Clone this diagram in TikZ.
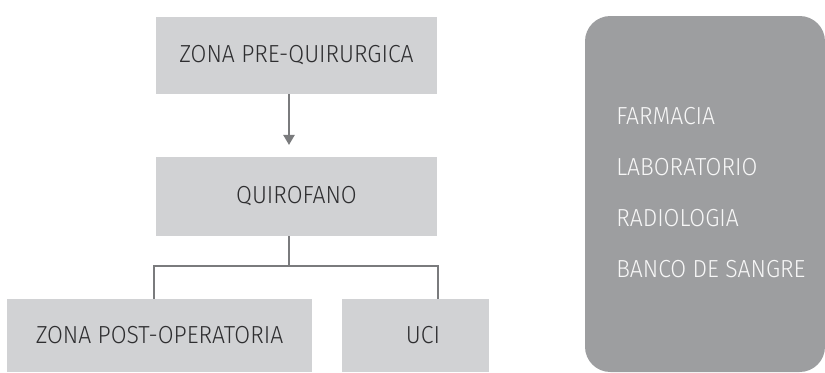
\documentclass[tikz,border=0pt]{standalone}
\usepackage{fontspec}
\setmainfont{Fira Sans Light}[FakeStretch=0.93]
\usetikzlibrary{arrows.meta,positioning,calc}

\definecolor{boxgray}{HTML}{D1D2D4}
\definecolor{panelgray}{HTML}{9D9EA0}
\definecolor{linegray}{HTML}{7A7B7D}
\definecolor{textdark}{HTML}{2E2E30}

\tikzset{
  area/.style={fill=boxgray, text=textdark, inner sep=0pt,
    font=\fontsize{18.5}{22}\selectfont},
  service/.style={anchor=west, text=white!92!panelgray, inner sep=0pt,
    font=\fontsize{18.5}{22}\selectfont},
  link/.style={draw=linegray, line width=1.1pt}
}

\begin{document}
\begin{tikzpicture}[x=0.75pt,y=-0.75pt]
        \useasboundingbox (0,0) rectangle (825,372);

        % Main flow
        \node[area, minimum width=210.75pt, minimum height=58pt] (prequir) at (296.5,55.5) {ZONA PRE-QUIRURGICA};
        \node[area, minimum width=210.75pt, minimum height=59pt] (quirofano) at (296.5,196.5) {QUIROFANO};

        % After surgery
        \node[area, minimum width=228.75pt, minimum height=55pt] (postop) at (159.5,335.5) {ZONA POST-OPERATORIA};
        \node[area, minimum width=110.25pt, minimum height=55pt] (uci) at (415.5,335.5) {};
        \node[text=textdark, inner sep=0pt, font=\fontsize{18.5}{22}\selectfont] (ucitext) at (423,335.5) {UCI};

        % Connectors
        \draw[link, -{Triangle[length=7.5pt,width=8.5pt]}, shorten >=9pt] (prequir.south -| 289,0) -- (quirofano.north -| 289,0);
        \coordinate (split) at (289,266);
        \coordinate (jleft) at (154,266);
        \coordinate (jright) at (438,266);
        \draw[link] (split |- quirofano.south) -- (split);
        \draw[link] (jleft |- postop.north) -- (jleft) -- (jright) -- (jright |- uci.north);

        % Support services
        \node[fill=panelgray, rounded corners=19pt, minimum width=180pt, minimum height=267pt, inner sep=0pt] (panel) at (705,194) {};
        \node[service] (farmacia) at (616,116) {FARMACIA};
        \node[service] (lab) at (616,167) {LABORATORIO};
        \node[service] (radio) at (616,218) {RADIOLOGIA};
        \node[service] (banco) at (616,269) {BANCO DE SANGRE};

\end{tikzpicture}
\end{document}
